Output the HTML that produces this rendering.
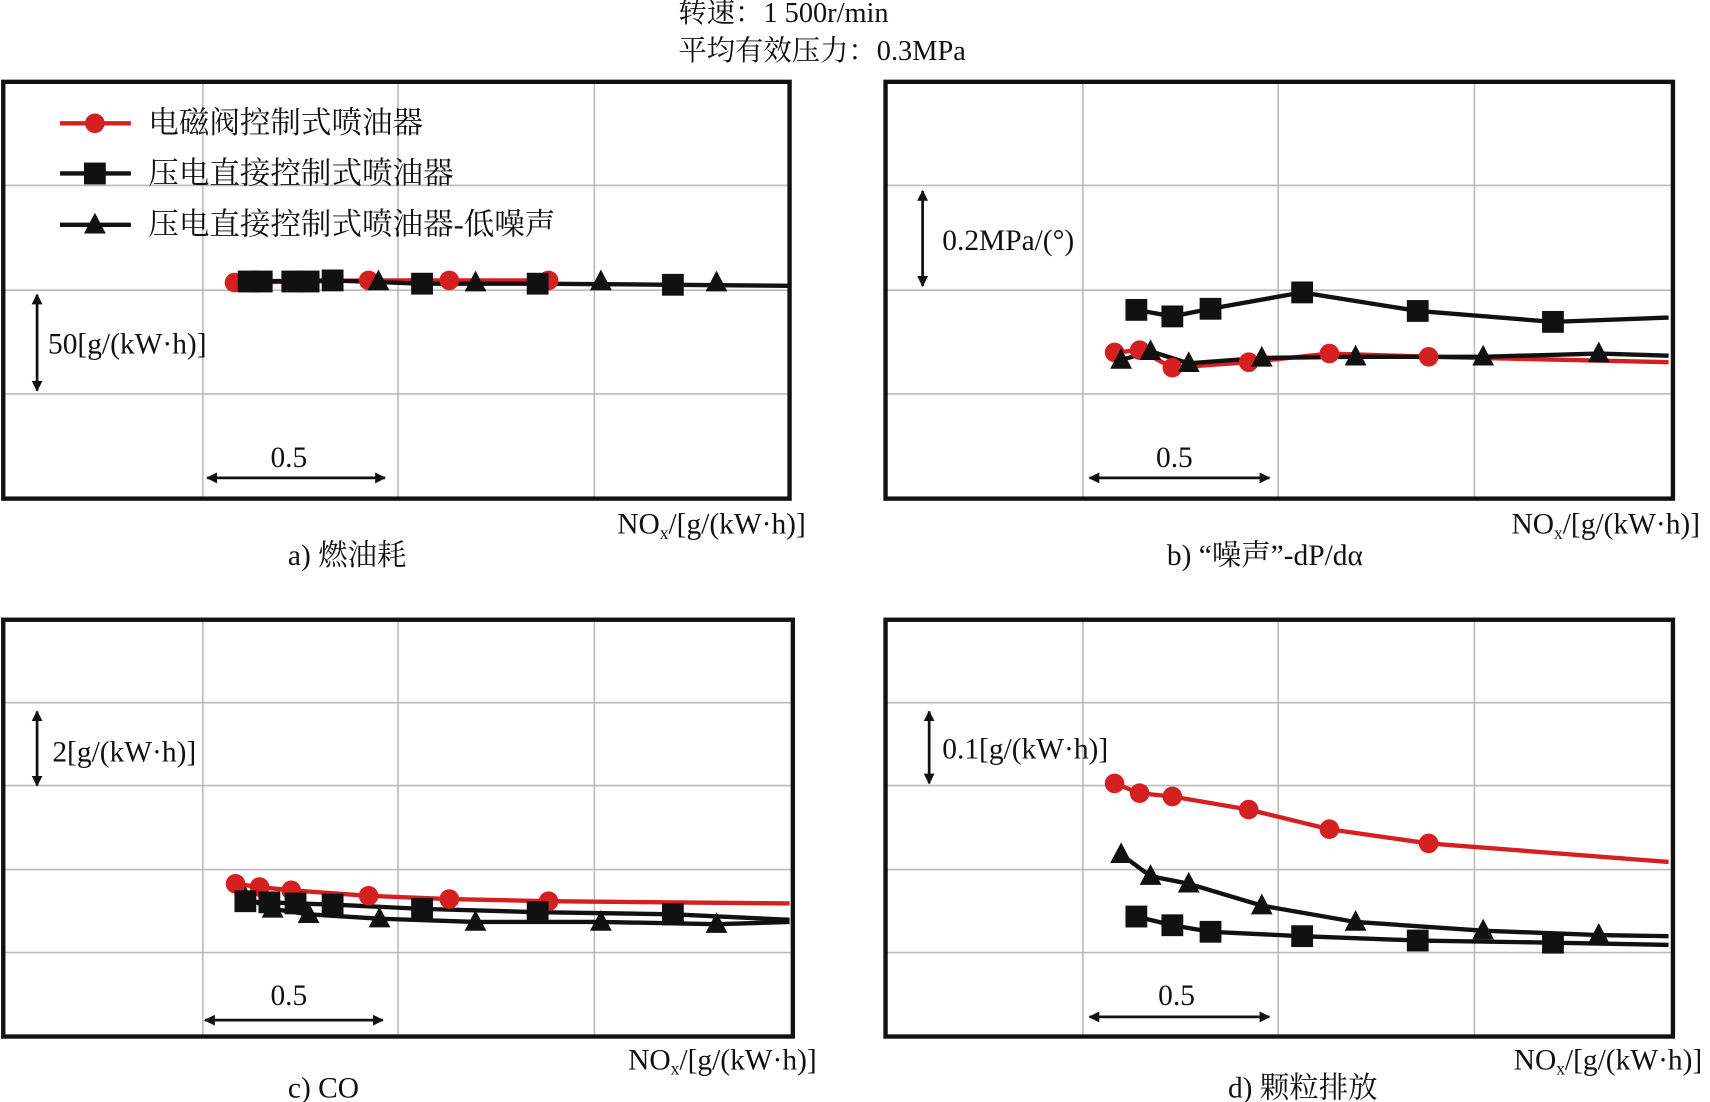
<!DOCTYPE html>
<html><head><meta charset="utf-8"><style>
html,body{margin:0;padding:0;background:#fff;}
svg{display:block;}
text{font-family:"Liberation Serif","Noto Serif CJK SC","Noto Sans CJK SC",serif;fill:#111;}
</style></head><body>
<svg width="1710" height="1102" viewBox="0 0 1568 1010" preserveAspectRatio="none" xmlns="http://www.w3.org/2000/svg">
<defs>
<marker id="ah" viewBox="0 0 10 10" refX="9" refY="5" markerWidth="4" markerHeight="4" orient="auto-start-reverse"><path d="M0,0L10,5L0,10z" fill="#111"/></marker>
<g id="c"><circle r="9" fill="#d42020"/></g>
<g id="s"><rect x="-10" y="-10" width="20" height="20" fill="#111"/></g>
<g id="t"><path d="M0,-11L10,8L-10,8z" fill="#111"/></g>
</defs>
<text x="622" y="20" font-size="26">转速：1 500r/min</text>
<text x="622" y="55" font-size="26">平均有效压力：0.3MPa</text>

<g stroke="#bbb" stroke-width="1.5" fill="none">
<path d="M186,75V457M365,75V457M545,75V457M3,170H724M3,266H724M3,361H724"/>
<path d="M993,75V457M1172,75V457M1352,75V457M812,170H1534M812,266H1534M812,361H1534"/>
<path d="M186,568V950M365,568V950M545,568V950M3,644H727M3,720H727M3,797H727M3,873H727"/>
<path d="M993,568V950M1172,568V950M1352,568V950M812,644H1534M812,720H1534M812,797H1534M812,873H1534"/>
</g>
<g stroke="#111" stroke-width="4" fill="none">
<rect x="3" y="75" width="721" height="382"/>
<rect x="812" y="75" width="722" height="382"/>
<rect x="3" y="568" width="724" height="382"/>
<rect x="812" y="568" width="722" height="382"/>
</g>

<g stroke="#111" stroke-width="2.5" marker-start="url(#ah)" marker-end="url(#ah)">
<line x1="190" y1="438" x2="353" y2="438"/>
<line x1="999" y1="438" x2="1164" y2="438"/>
<line x1="188" y1="935" x2="351" y2="935"/>
<line x1="999" y1="932" x2="1164" y2="932"/>
<line x1="34" y1="270" x2="34" y2="358"/>
<line x1="846" y1="175" x2="846" y2="262"/>
<line x1="34" y1="652" x2="34" y2="720"/>
<line x1="852" y1="652" x2="852" y2="718"/>
</g>
<g font-size="27">
<text x="248" y="428">0.5</text><text x="1060" y="428">0.5</text>
<text x="248" y="921">0.5</text><text x="1062" y="921">0.5</text>
<text x="44" y="324">50[g/(kW·h)]</text>
<text x="864" y="229">0.2MPa/(°)</text>
<text x="48" y="698">2[g/(kW·h)]</text>
<text x="864" y="695">0.1[g/(kW·h)]</text>
<text x="566" y="489">NO<tspan font-size="16" dy="5">x</tspan><tspan dy="-5">/[g/(kW·h)]</tspan></text>
<text x="1386" y="489">NO<tspan font-size="16" dy="5">x</tspan><tspan dy="-5">/[g/(kW·h)]</tspan></text>
<text x="576" y="980">NO<tspan font-size="16" dy="5">x</tspan><tspan dy="-5">/[g/(kW·h)]</tspan></text>
<text x="1388" y="980">NO<tspan font-size="16" dy="5">x</tspan><tspan dy="-5">/[g/(kW·h)]</tspan></text>
<text x="264" y="518">a) 燃油耗</text>
<text x="1070" y="518">b) “噪声”-dP/dα</text>
<text x="264" y="1006">c) CO</text>
<text x="1126" y="1006">d) 颗粒排放</text>
</g>

<g stroke-width="4">
<line x1="55" y1="113" x2="120" y2="113" stroke="#d42020"/>
<line x1="55" y1="159" x2="120" y2="159" stroke="#111"/>
<line x1="55" y1="206" x2="120" y2="206" stroke="#111"/>
</g>
<use href="#c" x="87" y="113"/><use href="#s" x="87" y="159"/><use href="#t" x="87" y="206"/>
<g font-size="28">
<text x="136" y="122">电磁阀控制式喷油器</text>
<text x="136" y="168">压电直接控制式喷油器</text>
<text x="136" y="215">压电直接控制式喷油器-低噪声</text>
</g>

<polyline fill="none" stroke="#d42020" stroke-width="4" points="215,259 338,257 503,257"/>
<polyline fill="none" stroke="#111" stroke-width="4" points="213,258 305,257 387,260 493,260 617,261 724,262"/>
<g>
<use href="#c" x="215" y="259"/><use href="#c" x="230" y="258"/><use href="#c" x="338" y="257"/><use href="#c" x="412" y="257"/><use href="#c" x="503" y="257"/>
<use href="#s" x="228" y="258"/><use href="#s" x="240" y="258"/><use href="#s" x="268" y="258"/><use href="#s" x="283" y="258"/><use href="#s" x="305" y="257"/><use href="#s" x="387" y="260"/><use href="#s" x="493" y="260"/><use href="#s" x="617" y="261"/>
<use href="#t" x="347" y="258"/><use href="#t" x="436" y="259"/><use href="#t" x="551" y="258"/><use href="#t" x="657" y="259"/>
</g>

<polyline fill="none" stroke="#111" stroke-width="4" points="1042,284 1075,290 1110,283 1194,268 1300,285 1424,295 1530,291"/>
<polyline fill="none" stroke="#d42020" stroke-width="4" points="1022,323 1045,321 1075,337 1145,332 1219,324 1310,327 1530,332"/>
<polyline fill="none" stroke="#111" stroke-width="4" points="1028,330 1055,322 1090,333 1157,328 1243,327 1360,327 1466,324 1530,326"/>
<use href="#s" x="1042" y="284"/><use href="#s" x="1075" y="290"/><use href="#s" x="1110" y="283"/><use href="#s" x="1194" y="268"/><use href="#s" x="1300" y="285"/><use href="#s" x="1424" y="295"/>
<use href="#c" x="1022" y="323"/><use href="#c" x="1045" y="321"/><use href="#c" x="1075" y="337"/><use href="#c" x="1145" y="332"/><use href="#c" x="1219" y="324"/><use href="#c" x="1310" y="327"/>
<use href="#t" x="1028" y="330"/><use href="#t" x="1055" y="322"/><use href="#t" x="1090" y="333"/><use href="#t" x="1157" y="328"/><use href="#t" x="1243" y="327"/><use href="#t" x="1360" y="327"/><use href="#t" x="1466" y="324"/>

<polyline fill="none" stroke="#d42020" stroke-width="4" points="216,810 238,813 267,816 338,821 412,824 503,826 724,828"/>
<polyline fill="none" stroke="#111" stroke-width="4" points="225,826 247,827 271,828 305,829 387,833 493,836 617,838 724,843"/>
<polyline fill="none" stroke="#111" stroke-width="4" points="225,823 250,833 283,838 348,842 436,845 551,845 657,847 724,845"/>
<use href="#c" x="216" y="810"/><use href="#c" x="238" y="813"/><use href="#c" x="267" y="816"/><use href="#c" x="338" y="821"/><use href="#c" x="412" y="824"/><use href="#c" x="503" y="826"/>
<use href="#s" x="225" y="826"/><use href="#s" x="247" y="827"/><use href="#s" x="271" y="828"/><use href="#s" x="305" y="829"/><use href="#s" x="387" y="833"/><use href="#s" x="493" y="836"/><use href="#s" x="617" y="838"/>
<use href="#t" x="225" y="823"/><use href="#t" x="250" y="833"/><use href="#t" x="283" y="838"/><use href="#t" x="348" y="842"/><use href="#t" x="436" y="845"/><use href="#t" x="551" y="845"/><use href="#t" x="657" y="847"/>

<polyline fill="none" stroke="#d42020" stroke-width="4" points="1022,718 1045,727 1075,730 1145,742 1219,760 1310,773 1530,790"/>
<polyline fill="none" stroke="#111" stroke-width="4" points="1028,783 1055,803 1090,810 1157,830 1243,845 1360,853 1466,857 1530,858"/>
<polyline fill="none" stroke="#111" stroke-width="4" points="1042,840 1075,848 1110,854 1194,858 1300,862 1424,864 1530,866"/>
<use href="#c" x="1022" y="718"/><use href="#c" x="1045" y="727"/><use href="#c" x="1075" y="730"/><use href="#c" x="1145" y="742"/><use href="#c" x="1219" y="760"/><use href="#c" x="1310" y="773"/>
<use href="#t" x="1028" y="783"/><use href="#t" x="1055" y="803"/><use href="#t" x="1090" y="810"/><use href="#t" x="1157" y="830"/><use href="#t" x="1243" y="845"/><use href="#t" x="1360" y="853"/><use href="#t" x="1466" y="857"/>
<use href="#s" x="1042" y="840"/><use href="#s" x="1075" y="848"/><use href="#s" x="1110" y="854"/><use href="#s" x="1194" y="858"/><use href="#s" x="1300" y="862"/><use href="#s" x="1424" y="864"/>
</svg>
</body></html>
